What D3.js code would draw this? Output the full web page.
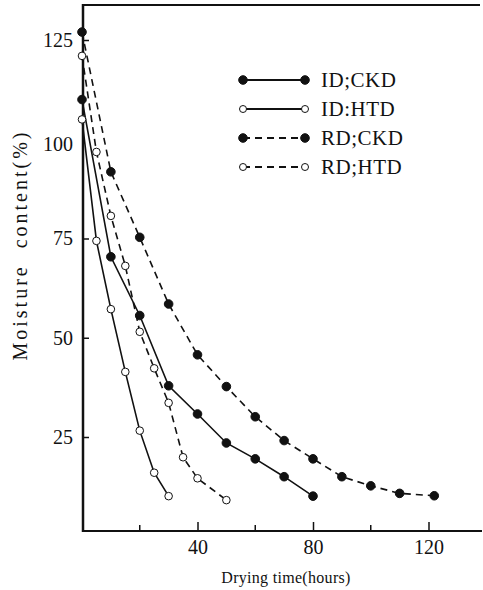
<!DOCTYPE html>
<html>
<head>
<meta charset="utf-8">
<script src="https://cdn.jsdelivr.net/npm/d3@7"></script>
<style>
    body { margin: 0; background: #fff; }
    svg { display: block; }
    text { font-family: "Liberation Serif", "DejaVu Serif", serif; fill: #111; }
</style>
</head>
<body>
<svg id="chart" width="483" height="590"></svg>
<script>
"use strict";
// drying time (hours) and moisture content (%)
var idCkdTime = [0, 10, 20, 30, 40, 50, 60, 70, 80];
var idCkdMoist = [110, 70.4, 55.6, 37.9, 30.8, 23.5, 19.5, 15, 10.1];
var idHtdTime = [0, 5, 10, 15, 20, 25, 30];
var idHtdMoist = [105, 74.4, 57.2, 41.4, 26.6, 16, 10.1];
var rdCkdTime = [0, 10, 20, 30, 40, 50, 60, 70, 80, 90, 100, 110, 122];
var rdCkdMoist = [127, 91.8, 75.3, 58.5, 45.7, 37.7, 30.1, 24.1, 19.5, 15, 12.7, 10.8, 10.2];
var rdHtdTime = [0, 5, 10, 15, 20, 25, 30, 35, 40, 50];
var rdHtdMoist = [121, 96.8, 80.7, 68.1, 51.5, 42.3, 33.6, 19.9, 14.6, 9.1];

var seriesNames = ["ID;CKD", "ID:HTD", "RD;CKD", "RD;HTD"];
var yTicks = [25, 50, 75, 100, 125];
var xMajorTicks = [40, 80, 120];
var xMinorTicks = [20, 60, 100];

(function () {
    var series = [
        { name: seriesNames[0], time: idCkdTime, moist: idCkdMoist, filled: true, dashed: false },
        { name: seriesNames[1], time: idHtdTime, moist: idHtdMoist, filled: false, dashed: false },
        { name: seriesNames[2], time: rdCkdTime, moist: rdCkdMoist, filled: true, dashed: true },
        { name: seriesNames[3], time: rdHtdTime, moist: rdHtdMoist, filled: false, dashed: true }
    ];

    var svg = d3.select("#chart");
    var axLeft = 83, axRight = 482, axTop = 5, axBottom = 531;

    var x = d3.scaleLinear().domain([0, 120]).range([82, 428.5]);
    var y = d3.scaleLinear().domain([25, 125]).range([437, 40]);

    // frame: top rule, left and bottom axis lines
    svg.append("line")
        .attr("x1", axLeft).attr("x2", 480).attr("y1", axTop).attr("y2", axTop)
        .attr("stroke", "#111").attr("stroke-width", 2);
    svg.append("line")
        .attr("x1", axLeft).attr("x2", axLeft).attr("y1", axTop - 1).attr("y2", axBottom + 1)
        .attr("stroke", "#111").attr("stroke-width", 2.5);
    svg.append("line")
        .attr("x1", axLeft).attr("x2", axRight).attr("y1", axBottom).attr("y2", axBottom)
        .attr("stroke", "#111").attr("stroke-width", 2);

    var yAxis = svg.append("g")
        .attr("transform", "translate(" + axLeft + ",0)")
        .call(d3.axisLeft(y).tickValues(yTicks).tickSize(-6).tickPadding(10));
    yAxis.select(".domain").remove();
    yAxis.selectAll("line").attr("stroke", "#111").attr("stroke-width", 1.5);
    yAxis.selectAll("text")
        .style("font-family", "Liberation Serif, serif")
        .style("font-size", "20px")
        .attr("fill", "#111");
    // the 100 label is almost washed out in the original print
    yAxis.selectAll(".tick")
        .filter(function (d) { return d == 100; })
        .call(function (t) {
            t.select("line").remove();
            t.select("text").attr("fill", "#d4d4d4").attr("y", 5);
        });

    var xAxis = svg.append("g")
        .attr("transform", "translate(0," + axBottom + ")")
        .call(d3.axisBottom(x).tickValues(xMajorTicks).tickSize(-9).tickPadding(9));
    xAxis.select(".domain").remove();
    xAxis.selectAll("line").attr("stroke", "#111").attr("stroke-width", 1.5);
    xAxis.selectAll("text")
        .style("font-family", "Liberation Serif, serif")
        .style("font-size", "20px")
        .attr("fill", "#111");

    svg.append("g").selectAll("line")
        .data(xMinorTicks)
        .enter().append("line")
        .attr("x1", function (d) { return x(d); })
        .attr("x2", function (d) { return x(d); })
        .attr("y1", axBottom)
        .attr("y2", axBottom - 6)
        .attr("stroke", "#111").attr("stroke-width", 1.5);

    // axis titles
    svg.append("text")
        .attr("x", 286).attr("y", 583)
        .attr("text-anchor", "middle")
        .style("font-size", "16px")
        .style("letter-spacing", "0.3px")
        .text("Drying time(hours)");
    svg.append("text")
        .attr("transform", "translate(27,245) rotate(-90)")
        .attr("text-anchor", "middle")
        .style("font-size", "20px")
        .style("letter-spacing", "3px")
        .style("white-space", "pre")
        .text("Moisture  content(%)");

    // curves
    var line = d3.line()
        .x(function (d) { return x(d[0]); })
        .y(function (d) { return y(d[1]); });

    var plot = svg.append("g");
    series.forEach(function (s) {
        var pts = s.time.map(function (t, i) { return [t, s.moist[i]]; });
        var g = plot.append("g");
        g.append("path")
            .datum(pts)
            .attr("d", line)
            .attr("fill", "none")
            .attr("stroke", "#111")
            .attr("stroke-width", 1.6)
            .attr("stroke-dasharray", s.dashed ? "7,5" : null);
        g.selectAll("circle")
            .data(pts)
            .enter().append("circle")
            .attr("cx", function (d) { return x(d[0]); })
            .attr("cy", function (d) { return y(d[1]); })
            .attr("r", s.filled ? 4.3 : 3.8)
            .attr("fill", s.filled ? "#111" : "#fff")
            .attr("stroke", "#111")
            .attr("stroke-width", 1);
    });

    // legend
    var legend = svg.append("g").attr("transform", "translate(243,80)");
    var rows = legend.selectAll("g")
        .data(series)
        .enter().append("g")
        .attr("transform", function (d, i) { return "translate(0," + (i * 29) + ")"; });
    rows.append("line")
        .attr("x1", 0).attr("x2", 62).attr("y1", 0).attr("y2", 0)
        .attr("stroke", "#111")
        .attr("stroke-width", 1.8)
        .attr("stroke-dasharray", function (d) { return d.dashed ? "7,5" : null; });
    rows.selectAll("circle")
        .data(function (d) { return [d, d]; })
        .enter().append("circle")
        .attr("cx", function (d, i) { return i * 62; })
        .attr("cy", 0)
        .attr("r", function (d) { return d.filled ? 4.3 : 3.5; })
        .attr("fill", function (d) { return d.filled ? "#111" : "#fff"; })
        .attr("stroke", "#111")
        .attr("stroke-width", 1);
    rows.append("text")
        .attr("x", 78).attr("y", 7)
        .style("font-size", "21px")
        .style("letter-spacing", "0.5px")
        .text(function (d) { return d.name; });
})();
</script>
</body>
</html>
